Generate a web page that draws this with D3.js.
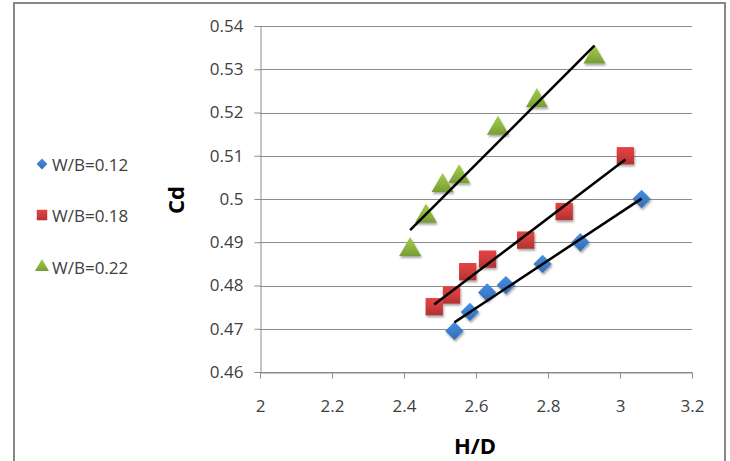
<!DOCTYPE html>
<html><head><meta charset="utf-8">
<script src="https://cdn.jsdelivr.net/npm/d3@7"></script>
<style>body{margin:0;background:#fff;} svg{display:block;}</style>
</head><body>
<svg id="c" width="730" height="461"></svg>
<script>
// ---- data ----
const seriesNames = ["W/B=0.12", "W/B=0.18", "W/B=0.22"];
const hd012 = [2.540, 2.583, 2.631, 2.683, 2.785, 2.890, 3.060];
const cd012 = [0.4695, 0.4739, 0.4784, 0.4801, 0.4850, 0.4900, 0.5000];
const hd018 = [2.484, 2.532, 2.577, 2.632, 2.738, 2.845, 3.015];
const cd018 = [0.4751, 0.4778, 0.4832, 0.4861, 0.4905, 0.4971, 0.5100];
const hd022 = [2.417, 2.461, 2.507, 2.553, 2.661, 2.769, 2.929];
const cd022 = [0.4883, 0.4960, 0.5031, 0.5051, 0.5163, 0.5227, 0.5328];
const xTicks = [2, 2.2, 2.4, 2.6, 2.8, 3, 3.2];
const yTicks = [0.46, 0.47, 0.48, 0.49, 0.50, 0.51, 0.52, 0.53, 0.54];
const xTitle = "H/D", yTitle = "Cd";

// ---- styles ----
const colors = ["#3d7dca", "#cc3b3b", "#8db53f"];
const shapes = [d3.symbolDiamond2, d3.symbolSquare, d3.symbolTriangle];
const fontFam = "'Open Sans', 'DejaVu Sans', sans-serif";

const series = [
  {name: seriesNames[0], xs: hd012, ys: cd012},
  {name: seriesNames[1], xs: hd018, ys: cd018},
  {name: seriesNames[2], xs: hd022, ys: cd022}
];

const svg = d3.select("#c");
const pL = 260, pR = 692, pT = 26, pB = 372;
const x = d3.scaleLinear().domain([2, 3.2]).range([pL, pR]);
const y = d3.scaleLinear().domain([0.46, 0.54]).range([pB, pT]);
const fmt = d => String(+d.toFixed(2));

// defs: gradients and shadow
const defs = svg.append("defs");
const f = defs.append("filter").attr("id", "sh").attr("x", "-50%").attr("y", "-50%").attr("width", "200%").attr("height", "200%");
f.append("feDropShadow").attr("dx", 1).attr("dy", 2).attr("stdDeviation", 1.3)
  .attr("flood-color", "#000").attr("flood-opacity", 0.35);
colors.forEach((c, i) => {
  const g = defs.append("linearGradient").attr("id", "g" + i)
    .attr("x1", 0).attr("y1", 0).attr("x2", 0).attr("y2", 1);
  g.append("stop").attr("offset", "0%").attr("stop-color", d3.color(c).brighter(0.35));
  g.append("stop").attr("offset", "55%").attr("stop-color", c);
  g.append("stop").attr("offset", "100%").attr("stop-color", d3.color(c).darker(0.45));
});

// chart border
svg.append("rect").attr("x", 14).attr("y", 3).attr("width", 711).attr("height", 470)
  .attr("fill", "none").attr("stroke", "#868686").attr("stroke-width", 2);

// gridlines
svg.append("g").selectAll("line").data(yTicks).join("line")
  .attr("x1", pL).attr("x2", pR)
  .attr("y1", d => Math.round(y(d)) + 0.5).attr("y2", d => Math.round(y(d)) + 0.5)
  .attr("stroke", "#8c8c8c").attr("stroke-width", 1);

// y axis
const ya = svg.append("g").attr("transform", `translate(${pL + 0.5},0)`)
  .call(d3.axisLeft(y).tickValues(yTicks).tickFormat(fmt).tickSize(6).tickSizeOuter(0).tickPadding(11));
// x axis
const xa = svg.append("g").attr("transform", `translate(0,${pB + 0.5})`)
  .call(d3.axisBottom(x).tickValues(xTicks).tickFormat(fmt).tickSize(6).tickSizeOuter(0).tickPadding(21));
[ya, xa].forEach(a => {
  a.selectAll("path.domain").attr("stroke", "#8c8c8c");
  a.selectAll(".tick line").attr("stroke", "#8c8c8c");
  a.selectAll("text").attr("font-family", fontFam).attr("font-size", 17).attr("fill", "#404040");
});
// extend y axis line down to the tick length
svg.append("line").attr("x1", pL + 0.5).attr("x2", pL + 0.5).attr("y1", pB).attr("y2", pB + 6)
  .attr("stroke", "#8c8c8c");

// axis titles
svg.append("text").attr("x", 475).attr("y", 445).attr("text-anchor", "middle").attr("dominant-baseline", "central")
  .attr("font-family", fontFam).attr("font-weight", "bold").attr("font-size", 22).attr("fill", "#000").text(xTitle);
svg.append("text").attr("transform", "translate(175,200) rotate(-90)").attr("text-anchor", "middle")
  .attr("dominant-baseline", "central")
  .attr("font-family", fontFam).attr("font-weight", "bold").attr("font-size", 22).attr("fill", "#000").text(yTitle);

// markers
const symSizes = [215, 300, 210];
series.forEach((s, i) => {
  const pts = s.xs.map((v, j) => [v, s.ys[j]]);
  svg.append("g").selectAll("path").data(pts).join("path")
    .attr("transform", d => `translate(${x(d[0])},${y(d[1])})`)
    .attr("d", d3.symbol().type(shapes[i]).size(symSizes[i]))
    .attr("fill", `url(#g${i})`).attr("filter", "url(#sh)");
});

// linear trendlines (least squares over each series)
series.forEach(s => {
  const mx = d3.mean(s.xs), my = d3.mean(s.ys);
  const sxy = d3.sum(s.xs, (v, j) => (v - mx) * (s.ys[j] - my));
  const sxx = d3.sum(s.xs, v => (v - mx) * (v - mx));
  const b = sxy / sxx, a = my - b * mx;
  const x0 = d3.min(s.xs), x1 = d3.max(s.xs);
  svg.append("line").attr("x1", x(x0)).attr("y1", y(a + b * x0))
    .attr("x2", x(x1)).attr("y2", y(a + b * x1))
    .attr("stroke", "#000").attr("stroke-width", 2.5);
});

// legend
const legY = [164, 215, 267];
const legSizes = [75, 110, 85];
series.forEach((s, i) => {
  svg.append("path").attr("transform", `translate(42,${legY[i]})`)
    .attr("d", d3.symbol().type(shapes[i]).size(legSizes[i]))
    .attr("fill", `url(#g${i})`);
  svg.append("text").attr("x", 52).attr("y", legY[i]).attr("dominant-baseline", "central")
    .attr("font-family", fontFam).attr("font-size", 17).attr("fill", "#404040").text(s.name);
});
</script>
</body></html>
